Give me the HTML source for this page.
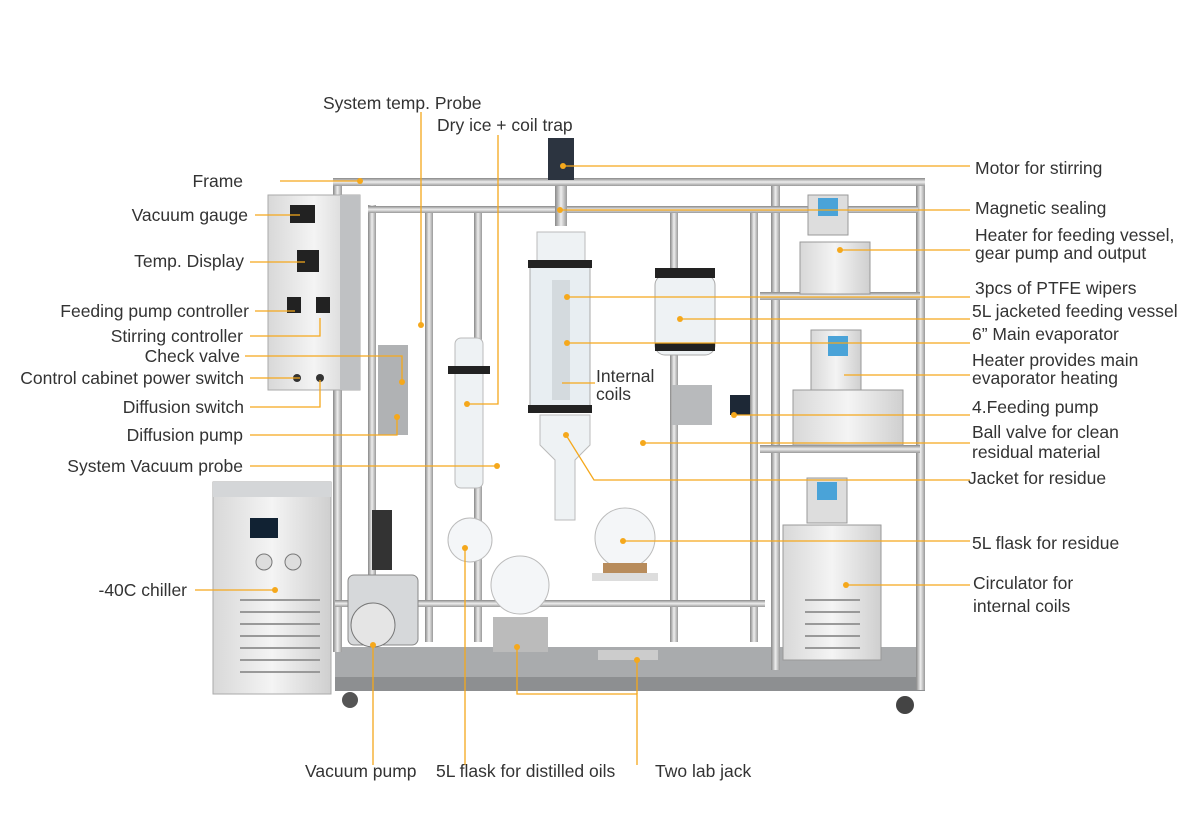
<!DOCTYPE html>
<html><head><meta charset="utf-8"><style>
html,body{margin:0;padding:0;background:#fff;}
svg{display:block}
text{font-family:"Liberation Sans",sans-serif;font-size:17.5px;fill:#333;}
</style></head><body>
<svg width="1200" height="827" viewBox="0 0 1200 827" xmlns="http://www.w3.org/2000/svg">
<defs>
<linearGradient id="pipe" x1="0" x2="1"><stop offset="0" stop-color="#888"/><stop offset=".5" stop-color="#eee"/><stop offset="1" stop-color="#999"/></linearGradient>
<linearGradient id="pipeh" x1="0" x2="0" y1="0" y2="1"><stop offset="0" stop-color="#888"/><stop offset=".5" stop-color="#eee"/><stop offset="1" stop-color="#999"/></linearGradient>
<linearGradient id="box" x1="0" x2="1"><stop offset="0" stop-color="#d8d8d8"/><stop offset=".5" stop-color="#f4f4f4"/><stop offset="1" stop-color="#cfcfcf"/></linearGradient>
</defs>
<rect x="335" y="647" width="590" height="30" fill="#a9abad"/>
<rect x="335" y="677" width="590" height="14" fill="#8d8f91"/>
<circle cx="350" cy="700" r="8" fill="#555"/><circle cx="905" cy="705" r="9" fill="#444"/>
<g fill="url(#pipe)">
<rect x="333" y="182" width="9" height="470"/><rect x="368" y="205" width="8" height="440"/>
<rect x="425" y="212" width="8" height="430"/><rect x="474" y="212" width="8" height="430"/>
<rect x="670" y="212" width="8" height="430"/><rect x="750" y="212" width="8" height="430"/>
<rect x="771" y="180" width="9" height="490"/><rect x="916" y="180" width="9" height="510"/>
</g>
<g fill="url(#pipeh)">
<rect x="333" y="178" width="592" height="8"/><rect x="368" y="206" width="550" height="7"/>
<rect x="335" y="600" width="430" height="7"/>
<rect x="760" y="292" width="160" height="8"/><rect x="760" y="445" width="160" height="8"/>
</g>
<rect x="268" y="195" width="92" height="195" fill="url(#box)" stroke="#aaa"/>
<rect x="340" y="195" width="20" height="195" fill="#bfc1c3"/>
<rect x="290" y="205" width="25" height="18" fill="#222"/><rect x="297" y="250" width="22" height="22" fill="#222"/>
<rect x="287" y="297" width="14" height="16" fill="#222"/><rect x="316" y="297" width="14" height="16" fill="#222"/>
<circle cx="297" cy="378" r="4" fill="#333"/><circle cx="320" cy="378" r="4" fill="#333"/>
<rect x="213" y="482" width="118" height="212" fill="url(#box)" stroke="#aaa"/>
<rect x="213" y="482" width="118" height="15" fill="#d4d6d8"/>
<rect x="250" y="518" width="28" height="20" fill="#123"/>
<circle cx="264" cy="562" r="8" fill="#ddd" stroke="#777"/><circle cx="293" cy="562" r="8" fill="#ddd" stroke="#777"/>
<g stroke="#999" stroke-width="2"><line x1="240" y1="600" x2="320" y2="600"/><line x1="240" y1="612" x2="320" y2="612"/><line x1="240" y1="624" x2="320" y2="624"/><line x1="240" y1="636" x2="320" y2="636"/><line x1="240" y1="648" x2="320" y2="648"/><line x1="240" y1="660" x2="320" y2="660"/><line x1="240" y1="672" x2="320" y2="672"/></g>
<rect x="348" y="575" width="70" height="70" rx="6" fill="#d6d8da" stroke="#888"/>
<circle cx="373" cy="625" r="22" fill="#e5e5e5" stroke="#777"/>
<rect x="372" y="510" width="20" height="60" fill="#333"/>
<rect x="378" y="345" width="30" height="90" fill="#b0b2b4"/>
<rect x="455" y="338" width="28" height="150" rx="6" fill="#eef2f4" stroke="#bbb"/>
<rect x="448" y="366" width="42" height="8" fill="#222"/>
<circle cx="470" cy="540" r="22" fill="#f4f6f8" stroke="#bbb"/>
<rect x="548" y="138" width="26" height="42" fill="#2c3440"/>
<rect x="555" y="186" width="12" height="40" fill="url(#pipe)"/>
<rect x="537" y="232" width="48" height="30" fill="#eef2f4" stroke="#bbb"/>
<rect x="530" y="262" width="60" height="150" rx="6" fill="#e8eef2" stroke="#aaa"/>
<rect x="528" y="260" width="64" height="8" fill="#222"/><rect x="528" y="405" width="64" height="8" fill="#222"/>
<rect x="552" y="280" width="18" height="120" fill="#d4dade"/>
<path d="M540 415 h50 v30 l-15 15 v60 h-20 v-60 l-15 -15z" fill="#eef2f4" stroke="#bbb"/>
<circle cx="520" cy="585" r="29" fill="#f4f6f8" stroke="#bbb"/>
<circle cx="625" cy="538" r="30" fill="#f4f6f8" stroke="#bbb"/>
<rect x="603" y="563" width="44" height="10" fill="#b88c5c"/>
<rect x="592" y="573" width="66" height="8" fill="#ddd"/>
<rect x="598" y="650" width="60" height="10" fill="#ccc"/>
<rect x="493" y="617" width="55" height="35" fill="#bbb"/>
<rect x="655" y="275" width="60" height="80" rx="10" fill="#eef2f4" stroke="#aaa"/>
<rect x="655" y="268" width="60" height="10" fill="#222"/><rect x="655" y="343" width="60" height="8" fill="#222"/>
<rect x="672" y="385" width="40" height="40" fill="#b8babc"/>
<rect x="730" y="395" width="20" height="20" fill="#1d2836"/>
<rect x="808" y="195" width="40" height="40" fill="#ddd" stroke="#999"/><rect x="818" y="198" width="20" height="18" fill="#4aa3d8"/>
<rect x="800" y="242" width="70" height="52" fill="url(#box)" stroke="#999"/>
<rect x="811" y="330" width="50" height="60" fill="url(#box)" stroke="#999"/><rect x="828" y="336" width="20" height="20" fill="#4aa3d8"/>
<rect x="793" y="390" width="110" height="55" fill="url(#box)" stroke="#999"/>
<rect x="807" y="478" width="40" height="45" fill="#ddd" stroke="#999"/><rect x="817" y="482" width="20" height="18" fill="#4aa3d8"/>
<rect x="783" y="525" width="98" height="135" fill="url(#box)" stroke="#999"/>
<g stroke="#999" stroke-width="2"><line x1="805" y1="600" x2="860" y2="600"/><line x1="805" y1="612" x2="860" y2="612"/><line x1="805" y1="624" x2="860" y2="624"/><line x1="805" y1="636" x2="860" y2="636"/><line x1="805" y1="648" x2="860" y2="648"/></g>
<g stroke="#f5a81c" stroke-width="1.3" fill="none">
<line x1="280" y1="181" x2="360" y2="181"/>
<line x1="255" y1="215" x2="300" y2="215"/>
<line x1="250" y1="262" x2="305" y2="262"/>
<line x1="255" y1="311" x2="295" y2="311"/>
<polyline points="250,336 320,336 320,318"/>
<polyline points="245,356 402,356 402,382"/>
<line x1="250" y1="378" x2="300" y2="378"/>
<polyline points="250,407 320,407 320,380"/>
<polyline points="250,435 397,435 397,417"/>
<line x1="250" y1="466" x2="497" y2="466"/>
<line x1="195" y1="590" x2="275" y2="590"/>
<line x1="421" y1="112" x2="421" y2="325"/>
<polyline points="498,135 498,404 467,404"/>
<line x1="373" y1="645" x2="373" y2="765"/>
<line x1="465" y1="548" x2="465" y2="765"/>
<polyline points="517,647 517,694 637,694 637,765"/>
<line x1="637" y1="660" x2="637" y2="694"/>
<line x1="563" y1="166" x2="970" y2="166"/>
<line x1="560" y1="210" x2="970" y2="210"/>
<line x1="840" y1="250" x2="970" y2="250"/>
<line x1="567" y1="297" x2="970" y2="297"/>
<line x1="680" y1="319" x2="970" y2="319"/>
<line x1="567" y1="343" x2="970" y2="343"/>
<line x1="844" y1="375" x2="970" y2="375"/>
<line x1="734" y1="415" x2="970" y2="415"/>
<line x1="643" y1="443" x2="970" y2="443"/>
<polyline points="566,435 594,480 970,480"/>
<line x1="562" y1="383" x2="595" y2="383"/>
<line x1="623" y1="541" x2="970" y2="541"/>
<line x1="846" y1="585" x2="970" y2="585"/>
</g>
<g fill="#f5a81c">
<circle cx="563" cy="166" r="3"/><circle cx="560" cy="210" r="3"/><circle cx="840" cy="250" r="3"/><circle cx="567" cy="297" r="3"/><circle cx="680" cy="319" r="3"/><circle cx="567" cy="343" r="3"/><circle cx="734" cy="415" r="3"/><circle cx="643" cy="443" r="3"/><circle cx="566" cy="435" r="3"/><circle cx="623" cy="541" r="3"/><circle cx="846" cy="585" r="3"/><circle cx="360" cy="181" r="3"/><circle cx="373" cy="645" r="3"/><circle cx="465" cy="548" r="3"/><circle cx="517" cy="647" r="3"/><circle cx="637" cy="660" r="3"/><circle cx="467" cy="404" r="3"/><circle cx="497" cy="466" r="3"/><circle cx="421" cy="325" r="3"/><circle cx="402" cy="382" r="3"/><circle cx="397" cy="417" r="3"/><circle cx="275" cy="590" r="3"/>
</g>
<g text-anchor="end">
<text x="243" y="187">Frame</text>
<text x="248" y="221">Vacuum gauge</text>
<text x="244" y="267">Temp. Display</text>
<text x="249" y="317">Feeding pump controller</text>
<text x="243" y="342">Stirring controller</text>
<text x="240" y="362">Check valve</text>
<text x="244" y="384">Control cabinet power switch</text>
<text x="244" y="413">Diffusion switch</text>
<text x="243" y="441">Diffusion pump</text>
<text x="243" y="472">System Vacuum probe</text>
<text x="187" y="596">-40C chiller</text>
</g>
<text x="323" y="109">System temp. Probe</text>
<text x="437" y="131">Dry ice + coil trap</text>
<text x="305" y="777">Vacuum pump</text>
<text x="436" y="777">5L flask for distilled oils</text>
<text x="655" y="777">Two lab jack</text>
<text x="596" y="382">Internal</text>
<text x="596" y="400">coils</text>
<text x="975" y="174">Motor for stirring</text>
<text x="975" y="214">Magnetic sealing</text>
<text x="975" y="241">Heater for feeding vessel,</text>
<text x="975" y="259">gear pump and output</text>
<text x="975" y="294">3pcs of PTFE wipers</text>
<text x="972" y="317">5L jacketed feeding vessel</text>
<text x="972" y="340">6”  Main evaporator</text>
<text x="972" y="366">Heater provides main</text>
<text x="972" y="384">evaporator heating</text>
<text x="972" y="413">4.Feeding pump</text>
<text x="972" y="438">Ball valve for clean</text>
<text x="972" y="458">residual material</text>
<text x="968" y="484">Jacket for residue</text>
<text x="972" y="549">5L flask for residue</text>
<text x="973" y="589">Circulator for</text>
<text x="973" y="612">internal coils</text>
</svg>
</body></html>
